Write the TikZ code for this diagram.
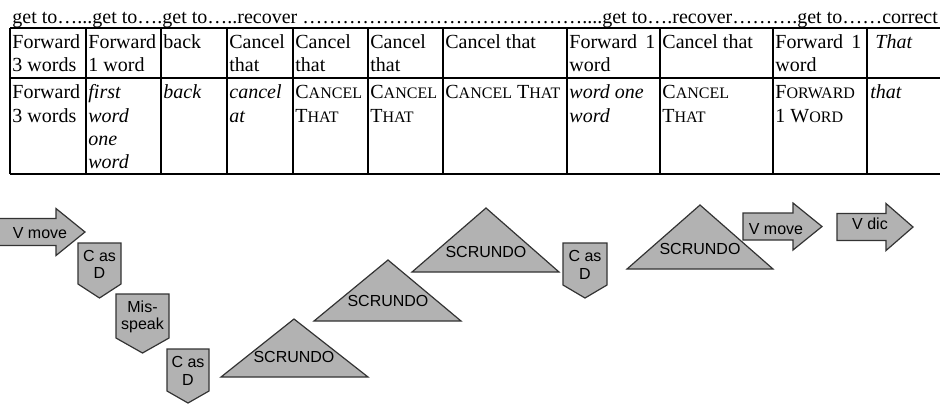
\documentclass[tikz,border=0pt]{standalone}
\usepackage{fontspec}
\setmainfont{Liberation Serif}
\newfontfamily\arialfont{Liberation Sans}
\newcommand\smc[1]{{\fontsize{8pt}{8pt}\selectfont #1}}

\begin{document}
\begin{tikzpicture}[x=0.5pt,y=-0.5pt,
  cell/.style={anchor=north west,inner sep=0pt,align=left,font=\fontsize{10pt}{11.6pt}\selectfont},
  it/.style={cell,font=\fontsize{10pt}{11.6pt}\selectfont\itshape},
  grid/.style={line width=0.7pt},
  blk/.style={draw=black!80,fill=black!30,line width=0.6pt},
  lbl/.style={inner sep=0pt,align=center,font=\arialfont\fontsize{8pt}{8.8pt}\selectfont}]
\useasboundingbox (0,0) rectangle (940,404);

% header line
\node[anchor=base west,inner sep=0pt,font=\fontsize{10pt}{12pt}\selectfont] (head) at (12,23)
  {get to…...get to….get to…..recover ……………………………………....get to….recover……….get to……correct};

% table
\draw[grid] (10,28) -- (940,28);
\draw[grid] (10,78) -- (940,78);
\draw[grid] (10,174) -- (940,174);
\foreach \x in {10,86,161,227,293,368,443,567,660,773,867}
  \draw[grid] (\x,28) -- (\x,174);

% first row
\foreach \x/\n/\t in {10/a/{Forward\\3 words},86/b/{Forward\\1 word},161/c/back,
    227/d/{Cancel\\that},293/e/{Cancel\\that},368/f/{Cancel\\that},443/g/{Cancel that},660/i/{Cancel that}}
  \node[cell] (top\n) at (\x+2,31.8) {\strut\t};
\node[cell,text width=43pt] (toph) at (569,31.8) {\strut Forward\hfill 1\\word};
\node[cell,text width=43pt] (topj) at (775,31.8) {\strut Forward\hfill 1\\word};
\node[it] (topk) at (875,31.8) {\strut That};

% second row
\node[cell] (bota) at (12,82.3) {\strut Forward\\3 words};
\node[it] (botb) at (88,82.3) {\strut first\\word\\one\\word};
\node[it] (botc) at (163,82.3) {\strut back};
\node[it] (botd) at (229,82.3) {\strut cancel\\at};
\node[cell] (bote) at (295,82.3) {\strut C\smc{ANCEL}\\T\smc{HAT}};
\node[cell] (botf) at (370,82.3) {\strut C\smc{ANCEL}\\T\smc{HAT}};
\node[cell] (botg) at (445,82.3) {\strut C\smc{ANCEL} T\smc{HAT}};
\node[it] (both) at (569,82.3) {\strut word one\\word};
\node[cell] (boti) at (662,82.3) {\strut C\smc{ANCEL}\\T\smc{HAT}};
\node[cell] (botj) at (775,82.3) {\strut F\smc{ORWARD}\\1 W\smc{ORD}};
\node[it] (botk) at (870,82.3) {\strut that};

% arrows
\foreach \xl/\xh/\xt/\yc/\xa/\ya/\n/\t in {-1/56/85/232/40/233/vmoveA/V move,
    743/793/822/226.5/776/229/vmoveB/V move,837/886/913/227/870/224/vdic/V dic}
{
  \draw[blk] (\xl,\yc-13.5) -- (\xh,\yc-13.5) -- (\xh,\yc-23.5) -- (\xt,\yc)
    -- (\xh,\yc+23.5) -- (\xh,\yc+13.5) -- (\xl,\yc+13.5) -- cycle;
  \node[lbl] (\n) at (\xa,\ya) {\t};
}

% C as D and Mis-speak
\foreach \xl/\xr/\yt/\ys/\yp/\n/\t in {78/121/243/284/298/casdA/{C as\\D},
    116/169/294/338/353/misspeak/{Mis-\\speak},167/209/349/391/403/casdB/{C as\\D},
    563/607/243/285/298/casdC/{C as\\D}}
{
  \draw[blk] (\xl,\yt) -- (\xr,\yt) -- (\xr,\ys) -- ({(\xl+\xr)/2},\yp) -- (\xl,\ys) -- cycle;
  \node[lbl] (\n) at ({(\xl+\xr)/2},{(\yt+\ys)/2+1}) {\t};
}

% SCRUNDO
\foreach \xl/\xr/\yb/\xa/\ya/\n in {221/368/377/294/319/A,314/461/321/388/260/B,
    412/559/272/486/208/C,627/773/269/700/205/D}
{
  \draw[blk] (\xl,\yb) -- (\xr,\yb) -- (\xa,\ya) -- cycle;
  \node[lbl] (scrundo\n) at (\xa,\yb-20) {SCRUNDO};
}
\end{tikzpicture}
\end{document}
